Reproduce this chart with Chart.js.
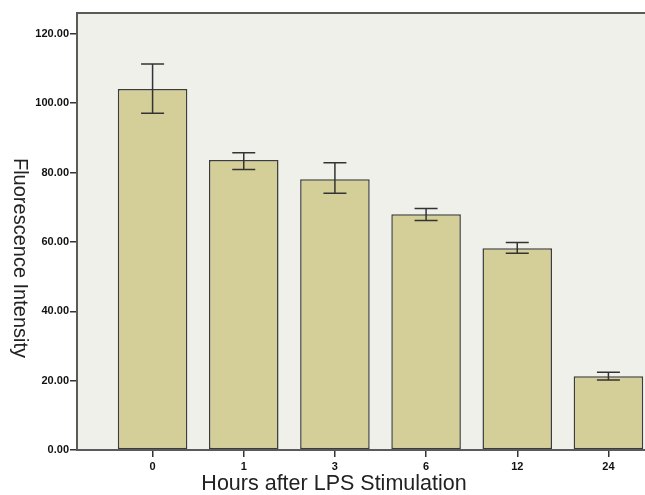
<!DOCTYPE html>
<html>
<head>
    <meta charset='UTF-8'>
    <title></title>
    <style>
        body { margin: 0; background: #fff; overflow: hidden; }
        #chart-container { position: absolute; left: 0; top: 0; width: 690px; height: 495px; }
    </style>
</head>
<body>
    <script src="https://cdn.jsdelivr.net/npm/chart.js@4.4.0/dist/chart.umd.min.js"></script>
    <div id="chart-container">
        <canvas id="chart" width="690" height="495"></canvas>
    </div>
    <script>
        // data
        let hours = ["0", "1", "3", "6", "12", "24"];
        let positions = [0, 1, 2, 3, 4, 5];
        let intensity = [104.1, 83.6, 78.1, 68.0, 58.2, 21.3];
        let errLow = [97.1, 80.9, 74.0, 66.2, 56.7, 20.2];
        let errHigh = [111.3, 85.7, 82.8, 69.6, 59.8, 22.4];
        let yTicks = [0, 20, 40, 60, 80, 100, 120];
        let xTitle = "Hours after LPS Stimulation";
        let yTitle = "Fluorescence Intensity";

        // plot box background + border
        let plotBox = {
            id: "plotBox",
            beforeDatasetsDraw(chart) {
                let a = chart.chartArea;
                let ctx = chart.ctx;
                ctx.save();
                ctx.fillStyle = "#f0f0eb";
                ctx.fillRect(a.left, a.top, a.right - a.left, a.bottom - a.top);
                ctx.restore();
            },
            afterDatasetsDraw(chart) {
                let a = chart.chartArea;
                let ctx = chart.ctx;
                ctx.save();
                ctx.strokeStyle = "#5a5a5a";
                ctx.lineWidth = 2;
                ctx.strokeRect(a.left, a.top, a.right - a.left, a.bottom - a.top);
                ctx.restore();
            }
        };

        // error bars
        let errorBars = {
            id: "errorBars",
            afterDatasetsDraw(chart) {
                let x = chart.scales.x, y = chart.scales.y;
                let ctx = chart.ctx;
                ctx.save();
                ctx.strokeStyle = "#333";
                ctx.lineWidth = 1.5;
                for (let i = 0; i < positions.length; i++) {
                    let px = x.getPixelForValue(positions[i]);
                    let top = y.getPixelForValue(errHigh[i]);
                    let bot = y.getPixelForValue(errLow[i]);
                    ctx.beginPath();
                    ctx.moveTo(px, top); ctx.lineTo(px, bot);
                    ctx.moveTo(px - 11.5, top); ctx.lineTo(px + 11.5, top);
                    ctx.moveTo(px - 11.5, bot); ctx.lineTo(px + 11.5, bot);
                    ctx.stroke();
                }
                ctx.restore();
            }
        };

        // axis titles (y title reads top to bottom, x title centred on the visible part)
        let axisTitles = {
            id: "axisTitles",
            afterDraw(chart) {
                let ctx = chart.ctx;
                ctx.save();
                ctx.fillStyle = "#222";
                ctx.textAlign = "center";
                ctx.textBaseline = "middle";
                ctx.font = "21.5px Arial";
                ctx.fillText(xTitle, 334, 484);
                ctx.translate(20, 258);
                ctx.rotate(Math.PI / 2);
                ctx.font = "20px Arial";
                ctx.fillText(yTitle, 0, 0);
                ctx.restore();
            }
        };

        let context = document.getElementById("chart").getContext("2d");
        let chart = new Chart(context, {
            type: "bar",
            data: {
                datasets: [{
                    data: positions.map((p, i) => ({ x: p, y: intensity[i] })),
                    backgroundColor: "#d4cf98",
                    borderColor: "#3c3c3c",
                    borderWidth: 1.5,
                    borderSkipped: false,
                    barPercentage: 0.763,
                    categoryPercentage: 1
                }]
            },
            plugins: [plotBox, errorBars, axisTitles],
            options: {
                responsive: false,
                animation: false,
                layout: { padding: { top: 13, right: 6, left: 0, bottom: 0 } },
                plugins: { legend: { display: false }, tooltip: { enabled: false } },
                scales: {
                    x: {
                        type: "linear",
                        min: -0.829,
                        max: 5.829,
                        offset: false,
                        afterBuildTicks: s => { s.ticks = positions.map(v => ({ value: v })); },
                        afterFit: s => { s.height = 45; },
                        grid: { offset: false, drawOnChartArea: false, drawTicks: true, tickLength: 7, color: "#333", lineWidth: 1.5 },
                        border: { display: false },
                        ticks: {
                            callback: v => hours[positions.indexOf(v)],
                            color: "#111",
                            font: { family: "Arial", size: 11, weight: "bold" },
                            padding: 3,
                            maxRotation: 0
                        }
                    },
                    y: {
                        min: 0,
                        max: 126,
                        afterBuildTicks: s => { s.ticks = yTicks.map(v => ({ value: v })); },
                        afterFit: s => { s.width = 77; },
                        grid: { drawOnChartArea: false, drawTicks: true, tickLength: 7, color: "#333", lineWidth: 1.5 },
                        border: { display: false },
                        ticks: {
                            callback: v => v.toFixed(2),
                            color: "#111",
                            font: { family: "Arial", size: 11, weight: "bold" },
                            padding: 1
                        }
                    }
                }
            }
        });
    </script>
</body>
</html>
